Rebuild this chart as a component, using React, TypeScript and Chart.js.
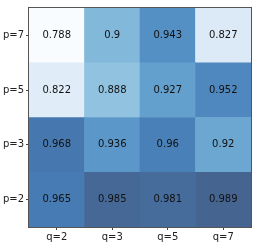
import React, { useEffect, useRef } from "react";
import { Chart, registerables } from "chart.js";

Chart.register(...registerables);

// Columns (x) and rows (y, bottom to top)
const colLabels = ["q=2", "q=3", "q=5", "q=7"];
const rowLabels = ["p=2", "p=3", "p=5", "p=7"];

// Values per row (bottom to top), one entry per column
const rowP2 = [0.965, 0.985, 0.981, 0.989];
const rowP3 = [0.968, 0.936, 0.96, 0.92];
const rowP5 = [0.822, 0.888, 0.927, 0.952];
const rowP7 = [0.788, 0.9, 0.943, 0.827];
const rowValues = [rowP2, rowP3, rowP5, rowP7];

const blues = [
  [247, 251, 255],
  [222, 235, 247],
  [198, 219, 239],
  [158, 202, 225],
  [107, 174, 214],
  [66, 146, 198],
  [33, 113, 181],
  [8, 81, 156],
  [8, 48, 107],
];

const allVals = rowValues.flat();
const vMin = Math.min(...allVals);
const vMax = Math.max(...allVals);

function colorFor(v: number): string {
  const t = Math.max(0, Math.min(1, (v - vMin) / (vMax - vMin)));
  const pos = t * (blues.length - 1);
  const i = Math.min(blues.length - 2, Math.floor(pos));
  const f = pos - i;
  const a = 0.75;
  const c = [0, 1, 2].map((k) => {
    const base = blues[i][k] + (blues[i + 1][k] - blues[i][k]) * f;
    return Math.round(base * a + 255 * (1 - a));
  });
  return `rgb(${c[0]},${c[1]},${c[2]})`;
}

const cellText = {
  id: "cellText",
  afterDatasetsDraw(chart: any) {
    const { ctx, scales, chartArea } = chart;
    const xs = scales.x;
    const ys = scales.y;
    ctx.save();
    ctx.font = "10px 'DejaVu Sans'";
    ctx.fillStyle = "#111";
    ctx.textAlign = "center";
    ctx.textBaseline = "middle";
    rowValues.forEach((row, r) => {
      row.forEach((v, c) => {
        const x = xs.getPixelForValue(c);
        const y = ys.getPixelForValue(r + 0.5);
        ctx.fillText(String(v), x, y);
      });
    });
    ctx.strokeStyle = "#555";
    ctx.lineWidth = 1;
    ctx.strokeRect(
      Math.round(chartArea.left) - 0.5,
      Math.round(chartArea.top) - 0.5,
      Math.round(chartArea.right - chartArea.left) + 1,
      Math.round(chartArea.bottom - chartArea.top) + 1
    );
    ctx.restore();
  },
};

export default function App() {
  const ref = useRef<HTMLCanvasElement | null>(null);
  useEffect(() => {
    document.body.style.margin = "0";
    Chart.defaults.font.family = "'DejaVu Sans'";
    const chart = new Chart(ref.current as HTMLCanvasElement, {
      type: "bar",
      data: {
        labels: colLabels,
        datasets: rowValues.map((row, r) => ({
          label: rowLabels[r],
          data: row.map(() => 1),
          backgroundColor: row.map((v) => colorFor(v)),
          borderWidth: 0,
          barPercentage: 1,
          categoryPercentage: 1,
        })),
      },
      options: {
        responsive: false,
        animation: false,
        layout: { padding: { top: 4, right: 6, left: 0, bottom: 0 } },
        plugins: { legend: { display: false }, tooltip: { enabled: false } },
        scales: {
          x: {
            stacked: true,
            grid: { display: true, drawOnChartArea: false, offset: false, tickLength: 3, color: "#444" },
            border: { display: false },
            ticks: { color: "#222", font: { size: 10 }, padding: 1, maxRotation: 0 },
            afterFit: (axis: any) => {
              axis.height = 18;
            },
          },
          y: {
            stacked: true,
            min: 0,
            max: 4,
            grid: { display: true, drawOnChartArea: false, tickLength: 3, color: "#444" },
            border: { display: false },
            afterBuildTicks: (axis: any) => {
              axis.ticks = [0.5, 1.5, 2.5, 3.5].map((v) => ({ value: v }));
            },
            ticks: {
              color: "#222",
              font: { size: 10 },
              padding: 2,
              callback: (v: any) => rowLabels[Math.floor(Number(v))],
            },
            afterFit: (axis: any) => {
              axis.width = 29;
            },
          },
        },
      },
      plugins: [cellText],
    });
    return () => chart.destroy();
  }, []);
  return <canvas ref={ref} width={257} height={245} style={{ display: "block" }} />;
}
